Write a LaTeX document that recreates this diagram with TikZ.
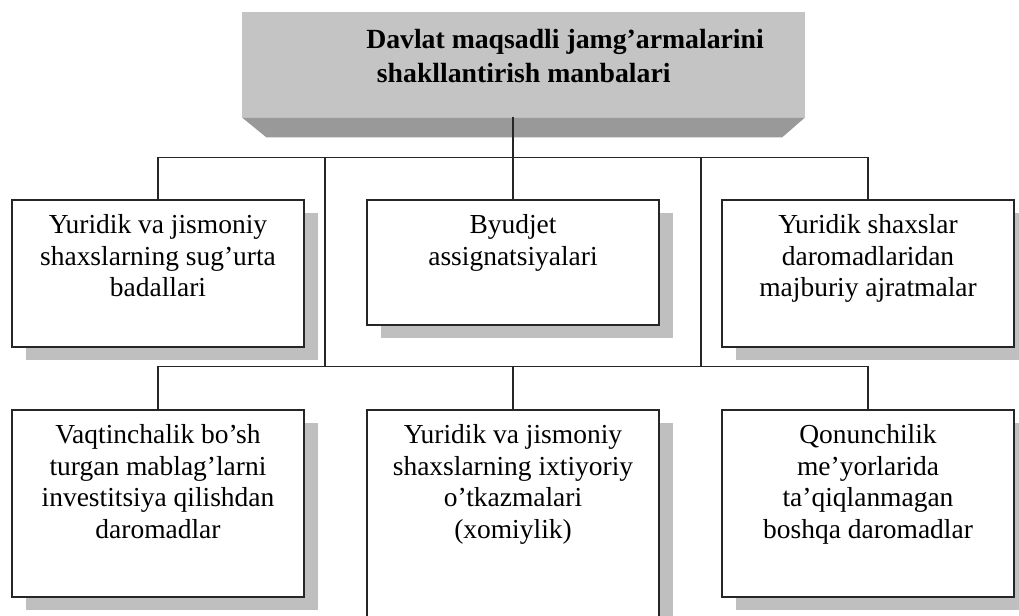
\documentclass[tikz,border=0pt]{standalone}
\usepackage{fontspec}
\setmainfont{Liberation Serif}
\usetikzlibrary{positioning,shadows}

\begin{document}
\begin{tikzpicture}[x=0.75pt,y=-0.75pt,
    box/.style={rectangle,draw=black!85,line width=1pt,fill=white,inner sep=0pt,
        minimum width=219pt,
        drop shadow={shadow xshift=10.5pt,shadow yshift=-10pt,fill=black!25,opacity=1}},
    boxtext/.style={inner sep=0pt,align=center,font=\fontsize{20.6}{23.6}\selectfont},
    link/.style={draw=black!85,line width=1pt}]
    \useasboundingbox (0,0) rectangle (1019,615);
    \clip (0,0) rectangle (1019,615);

    % Top box
    \node[rectangle,fill=black!23,minimum width=422.25pt,minimum height=78.75pt] (top) at (523.5,64.5) {};
    \fill[black!40] (top.south west) -- (top.south east) -- ++(-23,20) -- ++(-516,0) -- cycle;
    \node[anchor=north west,inner sep=0pt,align=left,font=\fontsize{20.8}{25.5}\selectfont\bfseries] (title) at (366,28.5)
        {Davlat maqsadli jamg’armalarini\\\hspace*{8pt}shakllantirish manbalari};

    % Sources, first row
    \node[box,minimum height=110.25pt] (s1) at (158,273.5) {};
    \node[box,minimum height=93.75pt] (s2) at (513,262.5) {};
    \node[box,minimum height=110.25pt] (s3) at (868,273.5) {};
    \node[boxtext,below=11.4pt of s1.north] (t1) {Yuridik va jismoniy\\shaxslarning sug’urta\\badallari};
    \node[boxtext,below=11.4pt of s2.north] (t2) {Byudjet\\assignatsiyalari};
    \node[boxtext,below=11.4pt of s3.north] (t3) {Yuridik shaxslar\\daromadlaridan\\majburiy ajratmalar};

    % Sources, second row
    \node[box,minimum height=140.25pt] (s4) at (158,503.5) {};
    \node[box,minimum height=187.5pt] (s5) at (513,535) {};
    \node[box,minimum height=140.25pt] (s6) at (868,503.5) {};
    \node[boxtext,below=11.4pt of s4.north] (t4) {Vaqtinchalik bo’sh\\turgan mablag’larni\\investitsiya qilishdan\\daromadlar};
    \node[boxtext,below=11.4pt of s5.north] (t5) {Yuridik va jismoniy\\shaxslarning ixtiyoriy\\o’tkazmalari\\(xomiylik)};
    \node[boxtext,below=11.4pt of s6.north] (t6) {Qonunchilik\\me’yorlarida\\ta’qiqlanmagan\\boshqa daromadlar};

    % Links
    \coordinate (b1) at (325,158);
    \coordinate (b2) at (325,367);
    \coordinate (b3) at (701,158);
    \coordinate (b4) at (701,367);
    \draw[link] (s2.north) -- (s2.north |- top.south);
    \draw[link] (s1.north) -- ++(0,-42) -| (s3.north);
    \draw[link] (s4.north) -- ++(0,-43) -| (s6.north);
    \draw[link] (s5.north) -- ++(0,-43);
    \draw[link] (b1) -- (b2);
    \draw[link] (b3) -- (b4);
\end{tikzpicture}
\end{document}
